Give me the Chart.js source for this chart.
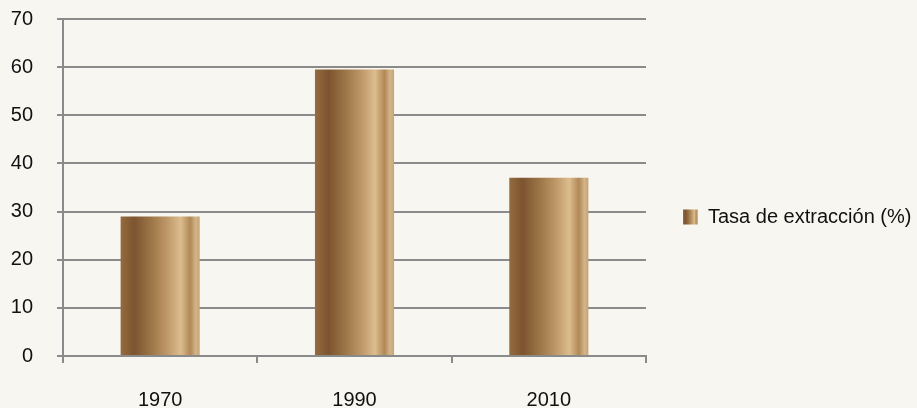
<!DOCTYPE html>
<html>
<head>
<meta charset="utf-8">
<script src="https://cdn.jsdelivr.net/npm/chart.js@4/dist/chart.umd.min.js"></script>
<style>
  html, body { margin: 0; padding: 0; background: #f8f6f1; }
  #wrap { width: 917px; height: 408px; position: relative; }
</style>
</head>
<body>
<div id="wrap"><canvas id="chBar"></canvas></div>
<script>
// data
var years = ['1970', '1990', '2010'];
var tasaExtraccion = [29, 59.5, 37];
var seriesName = 'Tasa de extracción (%)';
var yTicks = [0, 10, 20, 30, 40, 50, 60, 70];

// bronze look of the bars, left to right
var bronze = [
  [0.00, '#956b3f'],
  [0.17, '#7c5430'],
  [0.40, '#9e7848'],
  [0.60, '#c09a6b'],
  [0.76, '#dcbd8e'],
  [0.88, '#b18856'],
  [0.95, '#d2b588'],
  [1.00, '#c6a576']
];
var barPct = 0.407;

function bronzeGradient(c, x0, x1) {
  var g = c.createLinearGradient(x0, 0, x1, 0);
  bronze.forEach(function (s) { g.addColorStop(s[0], s[1]); });
  return g;
}

function barFill(ctx) {
  var chart = ctx.chart;
  var xs = chart.scales.x;
  if (!chart.chartArea || !xs || ctx.dataIndex === undefined) return '#a88050';
  var w = (xs.right - xs.left) / years.length * barPct;
  var cx = xs.getPixelForValue(ctx.dataIndex);
  return bronzeGradient(chart.ctx, cx - w / 2, cx + w / 2);
}

// paint the legend swatch with the same gradient
var legendSwatch = {
  id: 'legendSwatch',
  afterDraw: function (chart) {
    var lg = chart.legend;
    if (!lg || !lg.legendHitBoxes || !lg.legendHitBoxes.length) return;
    var hb = lg.legendHitBoxes[0];
    var bw = lg.options.labels.boxWidth, bh = lg.options.labels.boxHeight;
    var top = hb.top + (hb.height - bh) / 2;
    var c = chart.ctx;
    c.save();
    c.fillStyle = bronzeGradient(c, hb.left, hb.left + bw);
    c.fillRect(hb.left, top, bw, bh);
    c.restore();
  }
};

Chart.defaults.font.family = '"Liberation Sans", Arial, sans-serif';
Chart.defaults.font.size = 20;
Chart.defaults.color = '#111111';

new Chart(document.getElementById('chBar'), {
  type: 'bar',
  data: {
    labels: years,
    datasets: [{
      label: seriesName,
      data: tasaExtraccion,
      backgroundColor: barFill,
      borderWidth: 0,
      barPercentage: barPct,
      categoryPercentage: 1
    }]
  },
  options: {
    responsive: true,
    maintainAspectRatio: false,
    animation: false,
    layout: { padding: { left: 11, right: 0, top: 0, bottom: 0 } },
    plugins: {
      tooltip: { enabled: false },
      legend: {
        position: 'right',
        maxWidth: 271,
        // empty title only pushes the item down a little
        title: { display: true, text: '', padding: 0, font: { size: 26, lineHeight: 1 } },
        labels: {
          boxWidth: 15,
          boxHeight: 15,
          padding: 37,
          generateLabels: function (chart) {
            return [{
              text: seriesName,
              fillStyle: 'rgba(0,0,0,0)',
              strokeStyle: 'rgba(0,0,0,0)',
              lineWidth: 0,
              datasetIndex: 0
            }];
          }
        }
      }
    },
    scales: {
      x: {
        grid: { drawOnChartArea: false, drawTicks: true, tickLength: 7, color: '#8a8a8a', lineWidth: 2 },
        border: { color: '#8a8a8a', width: 2 },
        ticks: { padding: 25 },
        afterFit: function (s) { s.height = 52; }
      },
      y: {
        min: 0,
        max: 70,
        afterBuildTicks: function (axis) { axis.ticks = yTicks.map(function (v) { return { value: v }; }); },
        grid: { color: '#8a8a8a', lineWidth: 2, tickLength: 6 },
        border: { color: '#8a8a8a', width: 2 },
        ticks: { padding: 24 },
        afterFit: function (s) { s.width = 52; s.paddingTop = 19; }
      }
    }
  },
  plugins: [legendSwatch]
});
</script>
</body>
</html>
